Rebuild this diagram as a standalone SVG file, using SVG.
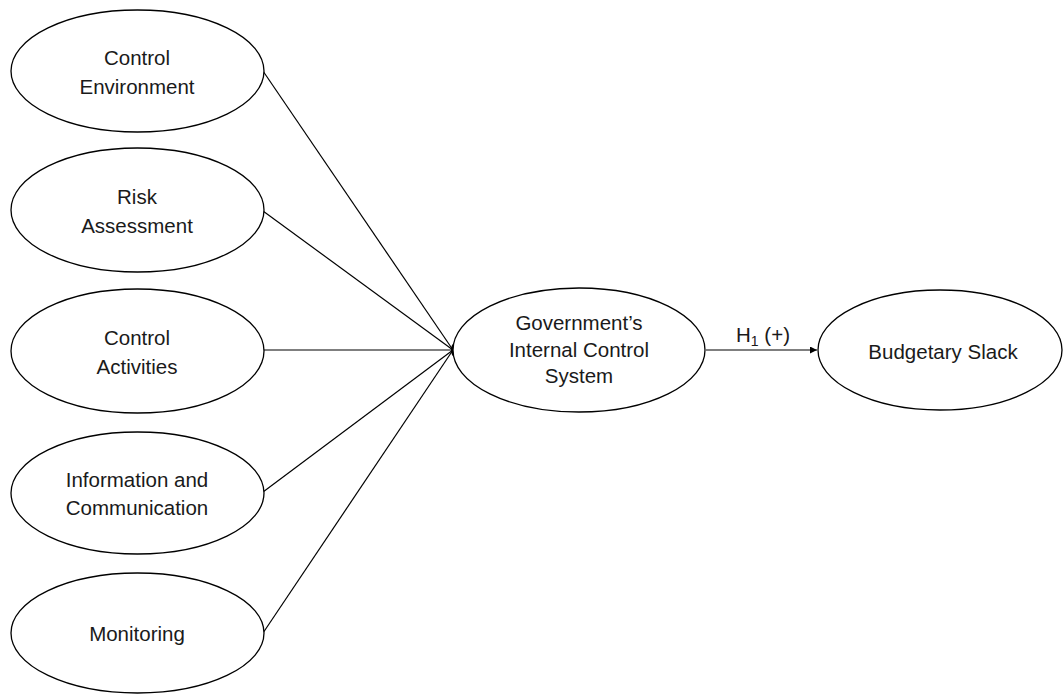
<svg xmlns="http://www.w3.org/2000/svg" width="1063" height="695" viewBox="0 0 1063 695">
<style>
.n{fill:#fff;stroke:#000;stroke-width:1.3}
.t{font-family:"Liberation Sans",Arial,sans-serif;font-size:20.5px;fill:#1a1a1a;text-anchor:middle}
.c{stroke:#000;stroke-width:1.2;fill:none}
</style>
<defs>
<marker id="a" viewBox="0 0 10 10" refX="10" refY="5" markerWidth="8" markerHeight="7" orient="auto" markerUnits="userSpaceOnUse"><path d="M0,0L10,5L0,10z" fill="#000"/></marker>
</defs>
<g id="connectors">
<line class="c" x1="263" y1="71" x2="453" y2="350"/>
<line class="c" x1="263" y1="211" x2="453" y2="350"/>
<line class="c" x1="264" y1="350" x2="453" y2="350"/>
<line class="c" x1="263" y1="492" x2="453" y2="350"/>
<line class="c" x1="263" y1="633" x2="453" y2="350"/>
<ellipse cx="454" cy="350" rx="3" ry="6.5" fill="#000"/>
<line class="c" x1="706" y1="350" x2="817" y2="350" marker-end="url(#a)"/>
<text class="t" x="763" y="342">H<tspan font-size="14" dy="4">1</tspan><tspan dy="-4"> (+)</tspan></text>
</g>
<g id="control-environment"><ellipse class="n" cx="137.5" cy="71" rx="126.5" ry="61"/><text class="t" x="137" y="65">Control</text><text class="t" x="137" y="94">Environment</text></g>
<g id="risk-assessment"><ellipse class="n" cx="137.5" cy="210" rx="126.5" ry="62"/><text class="t" x="137" y="204">Risk</text><text class="t" x="137" y="233">Assessment</text></g>
<g id="control-activities"><ellipse class="n" cx="137.5" cy="351" rx="126.5" ry="62"/><text class="t" x="137" y="345">Control</text><text class="t" x="137" y="374">Activities</text></g>
<g id="information-communication"><ellipse class="n" cx="137.5" cy="493" rx="126.5" ry="61"/><text class="t" x="137" y="487">Information and</text><text class="t" x="137" y="515">Communication</text></g>
<g id="monitoring"><ellipse class="n" cx="137.5" cy="633" rx="126.5" ry="60"/><text class="t" x="137" y="641">Monitoring</text></g>
<g id="internal-control-system"><ellipse class="n" cx="579" cy="350" rx="126" ry="62"/><text class="t" x="579" y="330">Government’s</text><text class="t" x="579" y="357">Internal Control</text><text class="t" x="579" y="383">System</text></g>
<g id="budgetary-slack"><ellipse class="n" cx="940" cy="350" rx="122" ry="60"/><text class="t" x="943" y="359">Budgetary Slack</text></g>
</svg>
